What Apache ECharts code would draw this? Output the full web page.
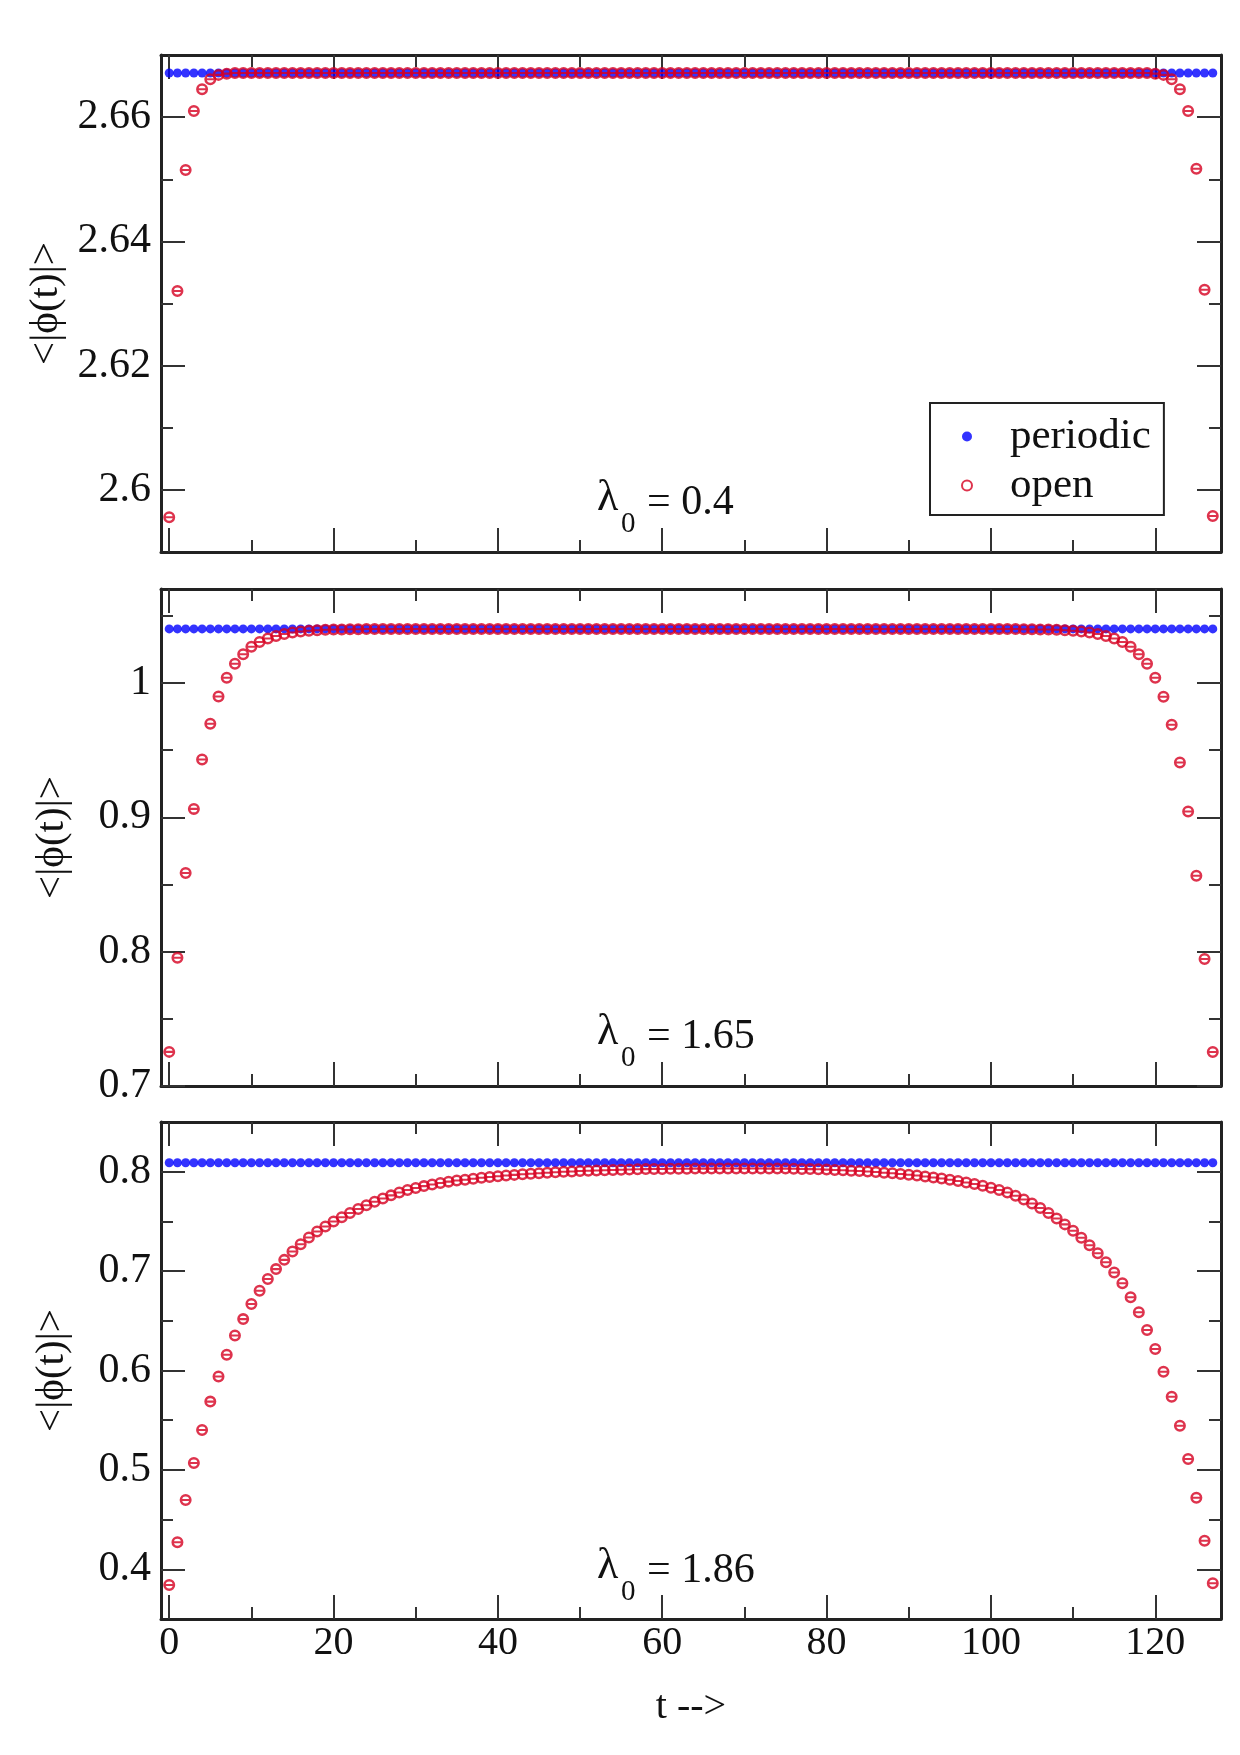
<!DOCTYPE html>
<html>
<head>
<meta charset="utf-8">
<script src="https://cdn.jsdelivr.net/npm/echarts@6.0.0/dist/echarts.min.js"></script>
<style>
  html, body { margin: 0; padding: 0; background: #fff; }
  #chart { width: 1240px; height: 1755px; }
</style>
</head>
<body>
<div id="chart"></div>
<script>
// time slices
const tValues = [
  0, 1, 2, 3, 4, 5, 6, 7, 8, 9, 10, 11, 12, 13, 14, 15,
  16, 17, 18, 19, 20, 21, 22, 23, 24, 25, 26, 27, 28, 29, 30, 31,
  32, 33, 34, 35, 36, 37, 38, 39, 40, 41, 42, 43, 44, 45, 46, 47,
  48, 49, 50, 51, 52, 53, 54, 55, 56, 57, 58, 59, 60, 61, 62, 63,
  64, 65, 66, 67, 68, 69, 70, 71, 72, 73, 74, 75, 76, 77, 78, 79,
  80, 81, 82, 83, 84, 85, 86, 87, 88, 89, 90, 91, 92, 93, 94, 95,
  96, 97, 98, 99, 100, 101, 102, 103, 104, 105, 106, 107, 108, 109, 110, 111,
  112, 113, 114, 115, 116, 117, 118, 119, 120, 121, 122, 123, 124, 125, 126, 127
]

// lambda0 = 0.4
const periodic1 = [
  2.6671, 2.6671, 2.6671, 2.6671, 2.6671, 2.6671, 2.6671, 2.6671, 2.6671, 2.6671, 2.6671, 2.6671, 2.6671, 2.6671, 2.6671, 2.6671,
  2.6671, 2.6671, 2.6671, 2.6671, 2.6671, 2.6671, 2.6671, 2.6671, 2.6671, 2.6671, 2.6671, 2.6671, 2.6671, 2.6671, 2.6671, 2.6671,
  2.6671, 2.6671, 2.6671, 2.6671, 2.6671, 2.6671, 2.6671, 2.6671, 2.6671, 2.6671, 2.6671, 2.6671, 2.6671, 2.6671, 2.6671, 2.6671,
  2.6671, 2.6671, 2.6671, 2.6671, 2.6671, 2.6671, 2.6671, 2.6671, 2.6671, 2.6671, 2.6671, 2.6671, 2.6671, 2.6671, 2.6671, 2.6671,
  2.6671, 2.6671, 2.6671, 2.6671, 2.6671, 2.6671, 2.6671, 2.6671, 2.6671, 2.6671, 2.6671, 2.6671, 2.6671, 2.6671, 2.6671, 2.6671,
  2.6671, 2.6671, 2.6671, 2.6671, 2.6671, 2.6671, 2.6671, 2.6671, 2.6671, 2.6671, 2.6671, 2.6671, 2.6671, 2.6671, 2.6671, 2.6671,
  2.6671, 2.6671, 2.6671, 2.6671, 2.6671, 2.6671, 2.6671, 2.6671, 2.6671, 2.6671, 2.6671, 2.6671, 2.6671, 2.6671, 2.6671, 2.6671,
  2.6671, 2.6671, 2.6671, 2.6671, 2.6671, 2.6671, 2.6671, 2.6671, 2.6671, 2.6671, 2.6671, 2.6671, 2.6671, 2.6671, 2.6671, 2.6671
]
const open1 = [
  2.5956, 2.6320, 2.6515, 2.6610, 2.6645, 2.6661, 2.6668, 2.6670, 2.6671, 2.6671, 2.6671, 2.6671, 2.6671, 2.6671, 2.6671, 2.6671,
  2.6671, 2.6671, 2.6671, 2.6671, 2.6671, 2.6671, 2.6671, 2.6671, 2.6671, 2.6671, 2.6671, 2.6671, 2.6671, 2.6671, 2.6671, 2.6671,
  2.6671, 2.6671, 2.6671, 2.6671, 2.6671, 2.6671, 2.6671, 2.6671, 2.6671, 2.6671, 2.6671, 2.6671, 2.6671, 2.6671, 2.6671, 2.6671,
  2.6671, 2.6671, 2.6671, 2.6671, 2.6671, 2.6671, 2.6671, 2.6671, 2.6671, 2.6671, 2.6671, 2.6671, 2.6671, 2.6671, 2.6671, 2.6671,
  2.6671, 2.6671, 2.6671, 2.6671, 2.6671, 2.6671, 2.6671, 2.6671, 2.6671, 2.6671, 2.6671, 2.6671, 2.6671, 2.6671, 2.6671, 2.6671,
  2.6671, 2.6671, 2.6671, 2.6671, 2.6671, 2.6671, 2.6671, 2.6671, 2.6671, 2.6671, 2.6671, 2.6671, 2.6671, 2.6671, 2.6671, 2.6671,
  2.6671, 2.6671, 2.6671, 2.6671, 2.6671, 2.6671, 2.6671, 2.6671, 2.6671, 2.6671, 2.6671, 2.6671, 2.6671, 2.6671, 2.6671, 2.6671,
  2.6671, 2.6671, 2.6671, 2.6671, 2.6671, 2.6671, 2.6671, 2.6671, 2.6670, 2.6668, 2.6661, 2.6645, 2.6610, 2.6517, 2.6322, 2.5958
]

// lambda0 = 1.65
const periodic2 = [
  1.0403, 1.0403, 1.0403, 1.0403, 1.0403, 1.0403, 1.0403, 1.0403, 1.0403, 1.0403, 1.0403, 1.0403, 1.0403, 1.0403, 1.0403, 1.0403,
  1.0403, 1.0403, 1.0403, 1.0403, 1.0403, 1.0403, 1.0403, 1.0403, 1.0403, 1.0403, 1.0403, 1.0403, 1.0403, 1.0403, 1.0403, 1.0403,
  1.0403, 1.0403, 1.0403, 1.0403, 1.0403, 1.0403, 1.0403, 1.0403, 1.0403, 1.0403, 1.0403, 1.0403, 1.0403, 1.0403, 1.0403, 1.0403,
  1.0403, 1.0403, 1.0403, 1.0403, 1.0403, 1.0403, 1.0403, 1.0403, 1.0403, 1.0403, 1.0403, 1.0403, 1.0403, 1.0403, 1.0403, 1.0403,
  1.0403, 1.0403, 1.0403, 1.0403, 1.0403, 1.0403, 1.0403, 1.0403, 1.0403, 1.0403, 1.0403, 1.0403, 1.0403, 1.0403, 1.0403, 1.0403,
  1.0403, 1.0403, 1.0403, 1.0403, 1.0403, 1.0403, 1.0403, 1.0403, 1.0403, 1.0403, 1.0403, 1.0403, 1.0403, 1.0403, 1.0403, 1.0403,
  1.0403, 1.0403, 1.0403, 1.0403, 1.0403, 1.0403, 1.0403, 1.0403, 1.0403, 1.0403, 1.0403, 1.0403, 1.0403, 1.0403, 1.0403, 1.0403,
  1.0403, 1.0403, 1.0403, 1.0403, 1.0403, 1.0403, 1.0403, 1.0403, 1.0403, 1.0403, 1.0403, 1.0403, 1.0403, 1.0403, 1.0403, 1.0403
]
const open2 = [
  0.7254, 0.7955, 0.8585, 0.9063, 0.9430, 0.9697, 0.9900, 1.0040, 1.0143, 1.0215, 1.0270, 1.0305, 1.0332, 1.0350, 1.0365, 1.0376,
  1.0384, 1.0389, 1.0393, 1.0396, 1.0398, 1.0399, 1.0400, 1.0401, 1.0402, 1.0402, 1.0402, 1.0402, 1.0402, 1.0402, 1.0402, 1.0402,
  1.0402, 1.0402, 1.0402, 1.0402, 1.0402, 1.0402, 1.0402, 1.0402, 1.0402, 1.0402, 1.0402, 1.0402, 1.0402, 1.0402, 1.0402, 1.0402,
  1.0402, 1.0402, 1.0402, 1.0402, 1.0402, 1.0402, 1.0402, 1.0402, 1.0402, 1.0402, 1.0402, 1.0402, 1.0402, 1.0402, 1.0402, 1.0402,
  1.0402, 1.0402, 1.0402, 1.0402, 1.0402, 1.0402, 1.0402, 1.0402, 1.0402, 1.0402, 1.0402, 1.0402, 1.0402, 1.0402, 1.0402, 1.0402,
  1.0402, 1.0402, 1.0402, 1.0402, 1.0402, 1.0402, 1.0402, 1.0402, 1.0402, 1.0402, 1.0402, 1.0402, 1.0402, 1.0402, 1.0402, 1.0402,
  1.0402, 1.0402, 1.0402, 1.0402, 1.0402, 1.0402, 1.0402, 1.0402, 1.0401, 1.0400, 1.0399, 1.0398, 1.0396, 1.0393, 1.0389, 1.0384,
  1.0376, 1.0365, 1.0350, 1.0332, 1.0305, 1.0270, 1.0215, 1.0143, 1.0040, 0.9898, 0.9689, 0.9408, 0.9043, 0.8566, 0.7946, 0.7253
]

// lambda0 = 1.86
const periodic3 = [
  0.8090, 0.8090, 0.8090, 0.8090, 0.8090, 0.8090, 0.8090, 0.8090, 0.8090, 0.8090, 0.8090, 0.8090, 0.8090, 0.8090, 0.8090, 0.8090,
  0.8090, 0.8090, 0.8090, 0.8090, 0.8090, 0.8090, 0.8090, 0.8090, 0.8090, 0.8090, 0.8090, 0.8090, 0.8090, 0.8090, 0.8090, 0.8090,
  0.8090, 0.8090, 0.8090, 0.8090, 0.8090, 0.8090, 0.8090, 0.8090, 0.8090, 0.8090, 0.8090, 0.8090, 0.8090, 0.8090, 0.8090, 0.8090,
  0.8090, 0.8090, 0.8090, 0.8090, 0.8090, 0.8090, 0.8090, 0.8090, 0.8090, 0.8090, 0.8090, 0.8090, 0.8090, 0.8090, 0.8090, 0.8090,
  0.8090, 0.8090, 0.8090, 0.8090, 0.8090, 0.8090, 0.8090, 0.8090, 0.8090, 0.8090, 0.8090, 0.8090, 0.8090, 0.8090, 0.8090, 0.8090,
  0.8090, 0.8090, 0.8090, 0.8090, 0.8090, 0.8090, 0.8090, 0.8090, 0.8090, 0.8090, 0.8090, 0.8090, 0.8090, 0.8090, 0.8090, 0.8090,
  0.8090, 0.8090, 0.8090, 0.8090, 0.8090, 0.8090, 0.8090, 0.8090, 0.8090, 0.8090, 0.8090, 0.8090, 0.8090, 0.8090, 0.8090, 0.8090,
  0.8090, 0.8090, 0.8090, 0.8090, 0.8090, 0.8090, 0.8090, 0.8090, 0.8090, 0.8090, 0.8090, 0.8090, 0.8090, 0.8090, 0.8090, 0.8090
]
const open3 = [
  0.3842, 0.4272, 0.4697, 0.5070, 0.5402, 0.5687, 0.5940, 0.6158, 0.6352, 0.6517, 0.6668, 0.6802, 0.6920, 0.7020, 0.7113, 0.7197,
  0.7271, 0.7337, 0.7398, 0.7448, 0.7498, 0.7542, 0.7584, 0.7624, 0.7662, 0.7698, 0.7731, 0.7762, 0.7791, 0.7815, 0.7836, 0.7855,
  0.7872, 0.7887, 0.7900, 0.7911, 0.7920, 0.7930, 0.7939, 0.7947, 0.7955, 0.7962, 0.7968, 0.7974, 0.7980, 0.7985, 0.7990, 0.7995,
  0.7999, 0.8003, 0.8006, 0.8009, 0.8012, 0.8015, 0.8018, 0.8020, 0.8022, 0.8024, 0.8026, 0.8027, 0.8028, 0.8029, 0.8030, 0.8030,
  0.8031, 0.8031, 0.8031, 0.8032, 0.8032, 0.8032, 0.8032, 0.8032, 0.8032, 0.8031, 0.8031, 0.8031, 0.8030, 0.8028, 0.8026, 0.8024,
  0.8021, 0.8018, 0.8014, 0.8010, 0.8006, 0.8001, 0.7996, 0.7990, 0.7984, 0.7977, 0.7969, 0.7961, 0.7952, 0.7942, 0.7931, 0.7919,
  0.7906, 0.7892, 0.7876, 0.7858, 0.7838, 0.7816, 0.7790, 0.7757, 0.7720, 0.7680, 0.7635, 0.7585, 0.7530, 0.7470, 0.7405, 0.7335,
  0.7260, 0.7179, 0.7089, 0.6986, 0.6877, 0.6736, 0.6585, 0.6407, 0.6216, 0.5988, 0.5736, 0.5444, 0.5110, 0.4720, 0.4288, 0.3859
]

const lambdaLabels = ['0.4', '1.65', '1.86']

// ticks
const xMajorTicks = [0, 20, 40, 60, 80, 100, 120]
const xMinorTicks = [10, 30, 50, 70, 90, 110]
const yRanges = [[2.59, 2.67], [0.7, 1.07], [0.35, 0.85]]
const yMajorTicks = [
  [2.6, 2.62, 2.64, 2.66],
  [0.7, 0.8, 0.9, 1],
  [0.4, 0.5, 0.6, 0.7, 0.8],
]
const yMinorTicks = [
  [2.61, 2.63, 2.65],
  [0.75, 0.85, 0.95, 1.05],
  [0.45, 0.55, 0.65, 0.75],
]

const FONT = 'Liberation Serif'
const gridTops = [55, 589, 1122]
const frame = { show: true, onZero: false, lineStyle: { color: '#222', width: 3 } }
const tickLine = { color: '#333', width: 2 }

// open circle with a bar through it, hollow so the blue shows through
const ringSymbol =
  'path://M0,-10A10,10 0 1,1 0,10A10,10 0 1,1 0,-10Z' +
  'M0,-5.8A5.8,5.8 0 1,0 0,5.8A5.8,5.8 0 1,0 0,-5.8Z' +
  'M-5.8,-1.7L5.8,-1.7L5.8,1.7L-5.8,1.7Z'

function makeXAxes(g) {
  const base = { gridIndex: g, type: 'value', min: -1, max: 128, splitLine: { show: false } }
  const major = (pos, labels) => ({
    ...base,
    position: pos,
    axisLine: frame,
    axisTick: { inside: true, length: 24, customValues: xMajorTicks, lineStyle: tickLine },
    axisLabel: {
      show: labels,
      customValues: xMajorTicks,
      margin: 4,
      fontFamily: FONT,
      fontSize: 40,
      color: '#111',
    },
    name: labels ? 't -->' : '',
    nameLocation: 'middle',
    nameGap: 68,
    nameTextStyle: { fontFamily: FONT, fontSize: 40, color: '#111' },
  })
  const minor = (pos) => ({
    ...base,
    position: pos,
    axisLine: { show: false, onZero: false },
    axisTick: { inside: true, length: 12, customValues: xMinorTicks, lineStyle: tickLine },
    axisLabel: { show: false },
  })
  return [major('bottom', g === 2), minor('bottom'), major('top', false), minor('top')]
}

function makeYAxes(g) {
  const base = {
    gridIndex: g,
    type: 'value',
    min: yRanges[g][0],
    max: yRanges[g][1],
    splitLine: { show: false },
  }
  const major = (pos, labels) => ({
    ...base,
    position: pos,
    axisLine: frame,
    axisTick: { inside: true, length: 24, customValues: yMajorTicks[g], lineStyle: tickLine },
    axisLabel: {
      show: labels,
      customValues: yMajorTicks[g],
      margin: 10,
      fontFamily: FONT,
      fontSize: 42,
      color: '#111',
    },
    name: labels ? '<|ϕ(t)|>' : '',
    nameLocation: 'middle',
    nameRotate: 90,
    nameGap: 88,
    nameTextStyle: { fontFamily: FONT, fontSize: 41, color: '#111' },
  })
  const minor = (pos) => ({
    ...base,
    position: pos,
    axisLine: { show: false, onZero: false },
    axisTick: { inside: true, length: 12, customValues: yMinorTicks[g], lineStyle: tickLine },
    axisLabel: { show: false },
  })
  return [major('left', true), minor('left'), major('right', false), minor('right')]
}

function pairs(vals) {
  return tValues.map((t, i) => [t, vals[i]])
}

const periodicSets = [periodic1, periodic2, periodic3]
const openSets = [open1, open2, open3]

const series = []
const graphics = []
const eqCenters = [503, 1037, 1571]
for (let g = 0; g < 3; g++) {
  series.push({
    type: 'scatter',
    name: 'periodic',
    xAxisIndex: g * 4,
    yAxisIndex: g * 4,
    data: pairs(periodicSets[g]),
    symbol: 'circle',
    symbolSize: 9,
    itemStyle: { color: '#0000ff' },
  })
  series.push({
    type: 'scatter',
    name: 'open',
    xAxisIndex: g * 4,
    yAxisIndex: g * 4,
    data: pairs(openSets[g]),
    symbol: ringSymbol,
    symbolSize: 12,
    itemStyle: { color: '#d60020' },
  })
  const yc = eqCenters[g]
  graphics.push(
    { type: 'text', x: 597, y: yc - 5, style: { text: 'λ', font: '44px "Liberation Serif"', fill: '#111', verticalAlign: 'middle' } },
    { type: 'text', x: 621, y: yc + 21, style: { text: '0', font: '29px "Liberation Serif"', fill: '#111', verticalAlign: 'middle' } },
    { type: 'text', x: 647, y: yc, style: { text: '= ' + lambdaLabels[g], font: '42px "Liberation Serif"', fill: '#111', verticalAlign: 'middle' } }
  )
}

const myChart = echarts.init(document.getElementById('chart'), null, { renderer: 'canvas' })
myChart.setOption({
  animation: false,
  backgroundColor: '#fff',
  grid: gridTops.map((top) => ({ left: 161, right: 19, top: top, height: 497, outerBoundsMode: 'none' })),
  xAxis: [0, 1, 2].flatMap(makeXAxes),
  yAxis: [0, 1, 2].flatMap(makeYAxes),
  legend: {
    data: [
      { name: 'periodic', icon: 'circle' },
      { name: 'open', icon: 'emptyCircle', itemStyle: { borderWidth: 2 } },
    ],
    orient: 'vertical',
    left: 930,
    top: 403,
    itemWidth: 60,
    itemHeight: 10,
    itemGap: 6,
    padding: [12, 13, 8, 31],
    borderColor: '#222',
    borderWidth: 2,
    backgroundColor: '#fff',
    selectedMode: false,
    textStyle: { fontFamily: FONT, fontSize: 43, color: '#111', lineHeight: 40, padding: [0, 0, 0, 8] },
  },
  graphic: graphics,
  series: series,
})
</script>
</body>
</html>
